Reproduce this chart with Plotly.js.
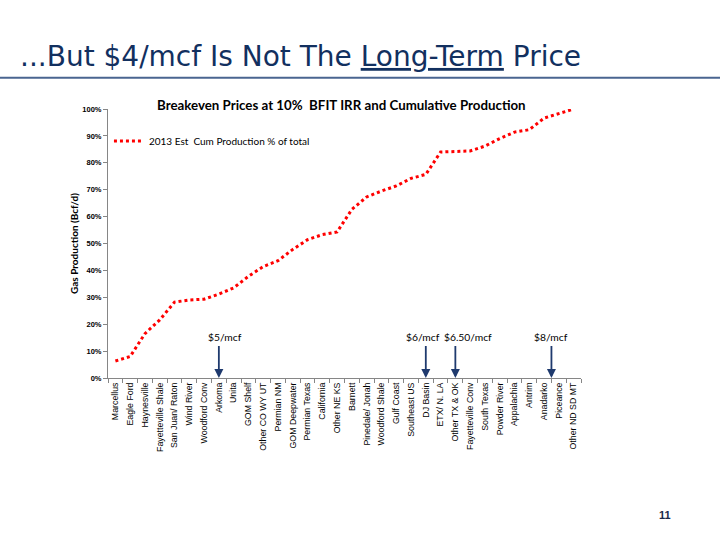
<!DOCTYPE html>
<html>
<head>
<meta charset="utf-8">
<script src="https://cdn.plot.ly/plotly-3.0.1.min.js"></script>
<style>
  html, body { margin: 0; padding: 0; background: #ffffff; }
  #chart { width: 720px; height: 540px; }
</style>
</head>
<body>
<div id="chart"></div>
<script>
// Basins ordered by breakeven price (cheapest first)
const basins = [
  'Marcellus', 'Eagle Ford', 'Haynesville', 'Fayetteville Shale', 'San Juan/ Raton',
  'Wind River', 'Woodford Conv', 'Arkoma', 'Unita', 'GOM Shelf', 'Other CO WY UT',
  'Permian NM', 'GOM Deepwater', 'Permian Texas', 'California', 'Other NE KS',
  'Barnett', 'Pinedale/ Jonah', 'Woodford Shale', 'Gulf Coast', 'Southeast US',
  'DJ Basin', 'ETX/ N. LA', 'Other TX & OK', 'Fayetteville Conv', 'South Texas',
  'Powder River', 'Appalachia', 'Antrim', 'Anadarko', 'Piceance', 'Other ND SD MT'
];

// 2013 estimated cumulative production, % of total
const cumProductionPct = [
  6.3, 8.0, 16.5, 21.6, 28.2, 29.0, 29.3, 31.2, 33.5, 37.8, 41.4,
  43.6, 47.8, 51.4, 53.3, 54.3, 62.7, 67.3, 69.5, 71.4, 74.2,
  75.7, 84.0, 84.1, 84.4, 86.2, 89.0, 91.4, 92.3, 96.6, 98.4, 100.0
];

// Breakeven price markers and the category index where each one sits
const priceLabels = ['$5/mcf', '$6/mcf', '$6.50/mcf', '$8/mcf'];
const priceIndex = [7, 21, 23, 29.5];

const yTicks = [0, 10, 20, 30, 40, 50, 60, 70, 80, 90, 100];

const navy = '#12305f';
const arrowNavy = '#1f3a6e';

const trace = {
  type: 'scatter',
  mode: 'lines',
  x: basins,
  y: cumProductionPct,
  name: '2013 Est\u00a0\u00a0Cum Production % of total',
  line: { color: '#ff0000', width: 3, dash: 'dot' },
  hoverinfo: 'skip'
};

// arrows from a short height down to the x axis, plus their price text
const textShift = [6, -3, 13, 0];
const priceAnnotations = [];
priceIndex.forEach((idx, i) => {
  priceAnnotations.push({
    x: idx, y: 0, xref: 'x', yref: 'y',
    ax: idx, ay: 12.5, axref: 'x', ayref: 'y',
    text: '', showarrow: true,
    arrowhead: 2, arrowsize: 1, arrowwidth: 1.8, arrowcolor: arrowNavy
  });
  priceAnnotations.push({
    x: idx, y: 15.4, xref: 'x', yref: 'y',
    text: priceLabels[i], showarrow: false, xshift: textShift[i],
    font: { family: 'Lato', size: 10.3, color: '#000000' }
  });
});

const layout = {
  width: 720,
  height: 540,
  paper_bgcolor: '#ffffff',
  plot_bgcolor: '#ffffff',
  margin: { l: 108, r: 139, t: 109, b: 162 },
  font: { family: 'Lato', color: '#000000' },
  title: {
    text: '...But $4/mcf Is Not The <u>Long-Term</u> Price',
    font: { family: 'DejaVu Sans', size: 28, color: navy },
    x: 20 / 720, xanchor: 'left', xref: 'container',
    y: 0.896, yanchor: 'middle', yref: 'container'
  },
  showlegend: true,
  legend: {
    x: 0.002, xanchor: 'left', y: 0.881, yanchor: 'middle',
    bgcolor: 'rgba(0,0,0,0)', borderwidth: 0,
    font: { family: 'Lato', size: 10, color: '#000000' },
    itemwidth: 30
  },
  xaxis: {
    type: 'category',
    range: [-0.5, basins.length - 0.5],
    tickson: 'boundaries',
    ticks: 'outside', ticklen: 4, tickcolor: '#868686',
    showline: true, linecolor: '#868686', linewidth: 1,
    showgrid: false, zeroline: false,
    tickangle: -90,
    tickfont: { family: 'Liberation Sans', size: 8.8, color: '#000000' }
  },
  yaxis: {
    range: [0, 100],
    tickvals: yTicks,
    ticktext: yTicks.map(v => v + '%'),
    ticks: 'outside', ticklen: 4, tickcolor: '#868686',
    showline: true, linecolor: '#868686', linewidth: 1,
    showgrid: false, zeroline: false,
    tickfont: { family: 'Liberation Sans', size: 7.5, color: '#000000', weight: 'bold' },
    title: {
      text: 'Gas Production (Bcf/d)',
      font: { family: 'Lato', size: 10, color: '#000000', weight: 'bold' },
      standoff: 1
    }
  },
  shapes: [
    {
      type: 'line', xref: 'paper', yref: 'paper',
      x0: -108 / 473, x1: 612 / 473, y0: 300.3 / 269, y1: 300.3 / 269,
      line: { color: '#4a6590', width: 2 }
    }
  ],
  annotations: [
    {
      text: 'Breakeven Prices at 10%\u00a0\u00a0BFIT IRR and Cumulative Production',
      xref: 'paper', yref: 'paper', x: 0.494, y: 1.015,
      xanchor: 'center', yanchor: 'middle', showarrow: false,
      font: { family: 'Lato', size: 13.3, color: '#000000', weight: 'bold' }
    },
    {
      text: '11',
      xref: 'paper', yref: 'paper', x: 557 / 473, y: -137 / 269,
      xanchor: 'center', yanchor: 'middle', showarrow: false,
      font: { family: 'Liberation Sans', size: 11, color: '#1a2a4a', weight: 'bold' }
    }
  ].concat(priceAnnotations)
};

Plotly.newPlot('chart', [trace], layout, { displayModeBar: false, staticPlot: true });
</script>
</body>
</html>
